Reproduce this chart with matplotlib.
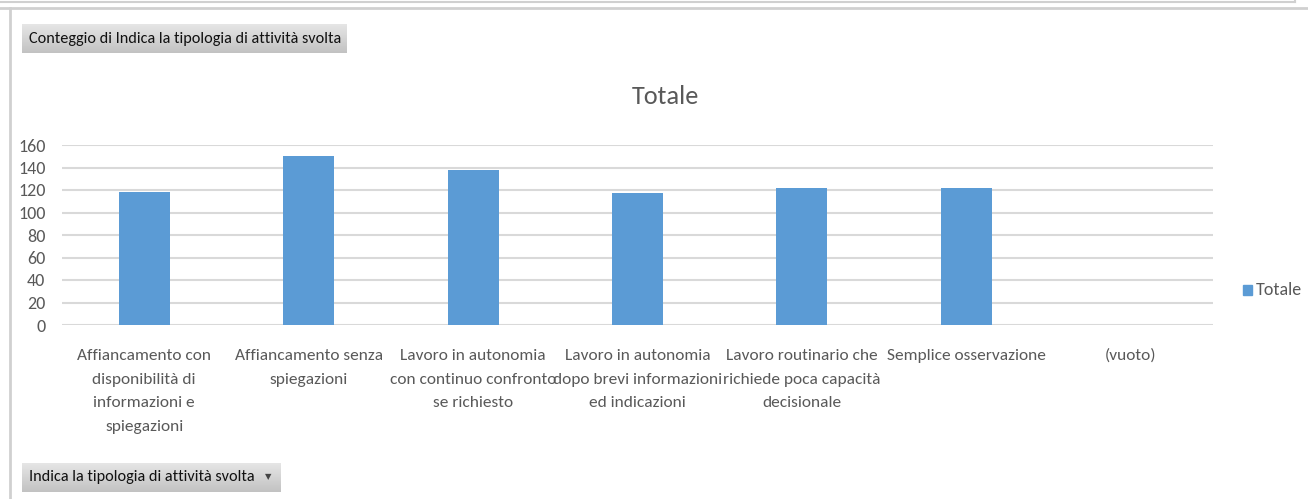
import matplotlib.pyplot as plt
from matplotlib.patches import Rectangle
import matplotlib.lines as mlines
import numpy as np

plt.rcParams['font.family'] = ['Carlito', 'Liberation Sans Narrow', 'DejaVu Sans']

# dati
categorie = [
    "Affiancamento con\ndisponibilità di\ninformazioni e\nspiegazioni",
    "Affiancamento senza\nspiegazioni",
    "Lavoro in autonomia\ncon continuo confronto\nse richiesto",
    "Lavoro in autonomia\ndopo brevi informazioni\ned indicazioni",
    "Lavoro routinario che\nrichiede poca capacità\ndecisionale",
    "Semplice osservazione",
    "(vuoto)",
]
totale = [118, 150, 138, 117, 122, 122, 0]
yticks = [0, 20, 40, 60, 80, 100, 120, 140, 160]

grigio = '#595959'
blu = '#5b9bd5'

fig = plt.figure(figsize=(13.08, 4.99), dpi=100)
W, H = 1308, 499

def px(x0, y0, x1, y1):
    return [x0 / W, 1 - y1 / H, (x1 - x0) / W, (y1 - y0) / H]

ax = fig.add_axes(px(62, 145, 1213, 325))
x = range(len(categorie))
ax.bar(x, totale, width=0.31, color=blu, zorder=3)
ax.set_xlim(-0.5, len(categorie) - 0.5)
ax.set_ylim(0, 160)
ax.set_yticks(yticks)
ax.set_yticklabels([str(v) for v in yticks], fontsize=13, color=grigio)
ax.set_xticks(list(x))
ax.set_xticklabels(categorie, fontsize=12.5, color=grigio, linespacing=1.9, va='top')
ax.tick_params(axis='both', length=0)
ax.tick_params(axis='x', pad=17)
ax.tick_params(axis='y', pad=12)
ax.grid(axis='y', color='#d9d9d9', linewidth=1.5, zorder=0)
for s in ax.spines.values():
    s.set_visible(False)

fig.text(665 / W, 1 - 97 / H, 'Totale', fontsize=19, color=grigio, ha='center', va='center')

# legenda
fig.patches.append(Rectangle((1243 / W, 1 - 295 / H), 9 / W, 10 / H,
                             transform=fig.transFigure, color=blu))
fig.text(1256 / W, 1 - 290 / H, 'Totale', fontsize=13, color=grigio, va='center')

# cornice e pulsanti della tabella pivot
fig.add_artist(mlines.Line2D([0, 1], [1 - 8 / H, 1 - 8 / H], color='#d0d0d0', lw=2))
fig.add_artist(mlines.Line2D([10 / W, 10 / W], [0, 1 - 8 / H], color='#d0d0d0', lw=2))
fig.add_artist(mlines.Line2D([0, 1295 / W], [1 - 2 / H, 1 - 2 / H], color='#d0d0d0', lw=1.5))
fig.add_artist(mlines.Line2D([1295 / W, 1295 / W], [1 - 2 / H, 1], color='#d0d0d0', lw=1.5))

grad = np.linspace(0.90, 0.76, 30).reshape(-1, 1)
for box in [(22, 24, 347, 53), (22, 463, 281, 492)]:
    bax = fig.add_axes(px(*box))
    bax.imshow(grad, cmap='gray', vmin=0, vmax=1, aspect='auto')
    bax.axis('off')

fig.text(29 / W, 1 - 39 / H, 'Conteggio di Indica la tipologia di attività svolta',
         fontsize=11.7, color='#111111', va='center')
fig.text(29 / W, 1 - 477 / H, 'Indica la tipologia di attività svolta',
         fontsize=11.7, color='#111111', va='center')
fig.text(268 / W, 1 - 477 / H, '▼', fontsize=6, color='#444444', va='center', ha='center',
         family=['DejaVu Sans'])

fig.savefig('out.png', dpi=100)
